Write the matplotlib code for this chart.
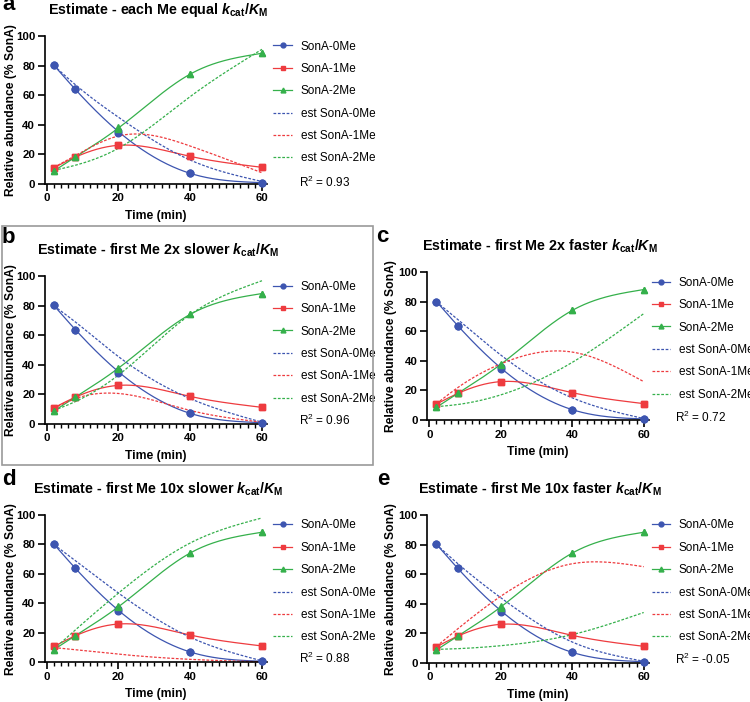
import numpy as np
import matplotlib
matplotlib.use('Agg')
import matplotlib.pyplot as plt
from matplotlib.lines import Line2D
from matplotlib.patches import Rectangle
from matplotlib.ticker import MultipleLocator

plt.rcParams['font.family'] = ['Liberation Sans', 'DejaVu Sans']
plt.rcParams['mathtext.fontset'] = 'custom'
plt.rcParams['mathtext.it'] = 'Liberation Sans:italic:bold'
plt.rcParams['mathtext.rm'] = 'Liberation Sans:bold'

# measured data (two replicates, only differ at 20 min)
time = [2, 8, 20, 40, 60]
me0_rep1 = [80.2, 63.8, 35.9, 7.0, 0.7]
me0_rep2 = [80.2, 63.8, 34.6, 7.0, 0.7]
me1_rep1 = [10.8, 18.0, 26.0, 18.5, 11.1]
me1_rep2 = [10.8, 18.0, 26.0, 18.5, 11.1]
me2_rep1 = [8.6, 18.0, 38.1, 74.2, 88.3]
me2_rep2 = [8.6, 18.0, 37.3, 74.2, 88.3]

# model estimates at the same time points
est_a_0 = [80.0, 67.0, 45.0, 16.0, 1.5]
est_a_1 = [11.0, 19.0, 32.3, 25.5, 7.4]
est_a_2 = [9.0, 12.5, 24.0, 59.0, 91.0]

est_b_0 = [80.0, 69.0, 45.5, 17.0, 1.0]
est_b_1 = [10.5, 17.0, 20.5, 9.0, 1.0]
est_b_2 = [9.0, 15.0, 33.0, 74.0, 97.0]

est_c_0 = [80.0, 68.0, 44.0, 15.0, 1.0]
est_c_1 = [11.0, 22.0, 38.0, 46.0, 26.0]
est_c_2 = [9.0, 10.5, 17.0, 39.0, 72.0]

est_d_0 = [80.0, 69.0, 47.0, 17.0, 1.0]
est_d_1 = [10.0, 8.5, 5.5, 2.0, 0.3]
est_d_2 = [9.0, 22.0, 47.0, 81.0, 98.0]

est_e_0 = [80.0, 67.0, 44.0, 14.0, 1.0]
est_e_1 = [11.0, 23.0, 45.0, 67.0, 65.0]
est_e_2 = [9.0, 9.5, 11.5, 19.0, 34.0]

letters = ['a', 'b', 'c', 'd', 'e']
titles = ['each Me equal', 'first Me 2x slower', 'first Me 2x faster',
          'first Me 10x slower', 'first Me 10x faster']
r2_values = ['0.93', '0.96', '0.72', '0.88', '-0.05']
estimates = [(est_a_0, est_a_1, est_a_2), (est_b_0, est_b_1, est_b_2),
             (est_c_0, est_c_1, est_c_2), (est_d_0, est_d_1, est_d_2),
             (est_e_0, est_e_1, est_e_2)]

BLUE, RED, GREEN = '#3d55b0', '#ee3b3f', '#35b04b'
W, H = 750, 702

# axes box in pixels: left, right, top, bottom
boxes = [(44.9, 267.0, 36.0, 183.7),
         (44.9, 267.0, 276.3, 423.7),
         (427.5, 648.7, 272.3, 420.0),
         (44.9, 267.0, 515.0, 662.3),
         (427.5, 648.7, 515.0, 662.7)]
letter_pos = [(2, 10), (2, 243), (376, 242), (2, 485), (377, 485)]


def smooth(x, y, n=200):
    # natural cubic spline through the points
    x = np.asarray(x, float)
    y = np.asarray(y, float)
    k = len(x)
    h = np.diff(x)
    A = np.zeros((k, k))
    b = np.zeros(k)
    A[0, 0] = A[-1, -1] = 1
    for i in range(1, k - 1):
        A[i, i - 1] = h[i - 1]
        A[i, i] = 2 * (h[i - 1] + h[i])
        A[i, i + 1] = h[i]
        b[i] = 6 * ((y[i + 1] - y[i]) / h[i] - (y[i] - y[i - 1]) / h[i - 1])
    M = np.linalg.solve(A, b)
    xs = np.linspace(x[0], x[-1], n)
    idx = np.clip(np.searchsorted(x, xs) - 1, 0, k - 2)
    x0, x1 = x[idx], x[idx + 1]
    hh = x1 - x0
    p = (x1 - xs) / hh
    q = (xs - x0) / hh
    ys = p * y[idx] + q * y[idx + 1] + ((p ** 3 - p) * M[idx] + (q ** 3 - q) * M[idx + 1]) * hh ** 2 / 6
    return xs, ys


fig = plt.figure(figsize=(W / 100, H / 100), dpi=100)

measured = [(me0_rep1, me0_rep2, BLUE, 'o'), (me1_rep1, me1_rep2, RED, 's'),
            (me2_rep1, me2_rep2, GREEN, '^')]

for i in range(5):
    l, r, t, btm = boxes[i]
    ax = fig.add_axes([l / W, 1 - btm / H, (r - l) / W, (btm - t) / H])
    for rep1, rep2, c, m in measured:
        mean = (np.array(rep1) + np.array(rep2)) / 2
        xs, ys = smooth(time, mean)
        ax.plot(xs, ys, color=c, lw=0.9, clip_on=False)
        ax.plot(time, rep1, ls='none', marker=m, color=c, ms=4.8, clip_on=False, zorder=4)
        ax.plot(time, rep2, ls='none', marker=m, color=c, ms=4.8, clip_on=False, zorder=4)
    for est, c in zip(estimates[i], [BLUE, RED, GREEN]):
        xs, ys = smooth(time, est)
        ax.plot(xs, ys, color=c, lw=0.9, ls=(0, (2.2, 1.3)), clip_on=False)

    ax.set_xlim(-0.5, 61.4)
    ax.set_ylim(0, 100)
    ax.set_xticks([0, 20, 40, 60])
    ax.xaxis.set_minor_locator(MultipleLocator(2))
    ax.set_yticks([0, 20, 40, 60, 80, 100])
    for s in ['top', 'right']:
        ax.spines[s].set_visible(False)
    for s in ['left', 'bottom']:
        ax.spines[s].set_linewidth(1.2)
    ax.tick_params(which='major', direction='out', length=5, width=1.2, labelsize=8.2, pad=2)
    ax.tick_params(which='minor', direction='out', length=3, width=1.0)
    for lab in ax.get_xticklabels() + ax.get_yticklabels():
        lab.set_fontweight('bold')
    ax.set_xlabel('Time (min)', fontsize=8.7, fontweight='bold')
    ax.set_ylabel('Relative abundance (% SonA)', fontsize=8.7, fontweight='bold')
    ax.xaxis.set_label_coords(0.5, -26.0 / (btm - t))
    ax.yaxis.set_label_coords(-(l - (17.5 if l < 300 else 397)) / (r - l), 0.5)

    title = 'Estimate - ' + titles[i] + r' $k_{\mathregular{cat}}$/$K_{\mathregular{M}}$'
    ax.text(0.51, 1 + 21.7 / (btm - t), title, transform=ax.transAxes, ha='center',
            va='baseline', fontsize=10.3, fontweight='bold')

    handles = [Line2D([], [], color=BLUE, marker='o', ms=3.5, lw=0.9),
               Line2D([], [], color=RED, marker='s', ms=3.5, lw=0.9),
               Line2D([], [], color=GREEN, marker='^', ms=3.5, lw=0.9),
               Line2D([], [], color=BLUE, lw=0.9, ls=(0, (2.2, 1.3))),
               Line2D([], [], color=RED, lw=0.9, ls=(0, (2.2, 1.3))),
               Line2D([], [], color=GREEN, lw=0.9, ls=(0, (2.2, 1.3)))]
    labels = ['SonA-0Me', 'SonA-1Me', 'SonA-2Me', 'est SonA-0Me', 'est SonA-1Me', 'est SonA-2Me']
    hx = 273.5 if l < 300 else 651.5
    ax.legend(handles, labels, loc='upper left', frameon=False, fontsize=8.5,
              bbox_to_anchor=((hx - l) / (r - l), 1 - 4.5 / (btm - t)),
              borderaxespad=0, borderpad=0, handlelength=1.6, handletextpad=0.7,
              labelspacing=0.88)
    tx = 299 if l < 300 else 675
    r2_off = [1.0, 3.7, 2.3, 4.0, 3.4][i]
    ax.text((tx - l) / (r - l), r2_off / (btm - t), r'$\mathregular{R^2}$ = ' + r2_values[i],
            transform=ax.transAxes, ha='left', va='center', fontsize=8.5)

    lx, ly = letter_pos[i]
    fig.text(lx / W, 1 - ly / H, letters[i], fontsize=16, fontweight='bold',
             ha='left', va='baseline')

fig.patches.append(Rectangle((1.5 / W, 1 - 465 / H), 371.5 / W, 239 / H,
                             transform=fig.transFigure, fill=False,
                             ec='#9a9a9a', lw=1.2))

fig.savefig('out.png', dpi=100)
